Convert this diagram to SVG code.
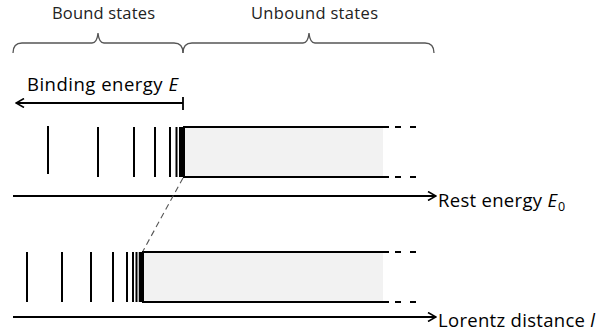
<svg xmlns="http://www.w3.org/2000/svg" width="597" height="333" viewBox="0 0 597 333">
<defs>
<style>
.lbl{font-family:"Open Sans","Liberation Sans",sans-serif;fill:#000}
.top{font-family:"Open Sans","Liberation Sans",sans-serif;fill:#222;font-size:16.5px}
.brace{fill:none;stroke:#555;stroke-width:1.3}
.ln{stroke:#000;stroke-width:2;fill:none}
.box{fill:#f2f2f2;stroke:none}
.dash{stroke:#000;stroke-width:2;stroke-dasharray:6 9}
.guide{stroke:#555;stroke-width:1.1;stroke-dasharray:6 4;fill:none}
</style>
<marker id="arr" viewBox="0 0 10 10" refX="9" refY="5" markerWidth="10" markerHeight="10" markerUnits="userSpaceOnUse" orient="auto-start-reverse">
<path d="M1,0.5 L9,5 L1,9.5" fill="none" stroke="#000" stroke-width="1.6"/>
</marker>
</defs>
<rect width="597" height="333" fill="#fff"/>

<g id="bound-label">
<text class="top" x="52" y="18.5" textLength="103" lengthAdjust="spacing">Bound states</text>
<path class="brace" d="M13,53 Q13,43 22,43 L92,43 Q97,43 98,33 Q99,43 104,43 L174,43 Q183,43 183,53"/>
</g>
<g id="unbound-label">
<text class="top" x="251" y="18.5" textLength="127" lengthAdjust="spacing">Unbound states</text>
<path class="brace" d="M183,53 Q183,43 192,43 L303,43 Q308,43 309,33 Q310,43 315,43 L425,43 Q434,43 434,53"/>
</g>

<g id="binding-energy">
<text class="lbl" x="27" y="91" font-size="18.5" textLength="151" lengthAdjust="spacing">Binding energy <tspan font-style="italic">E</tspan></text>
<line class="ln" x1="183" y1="103" x2="16" y2="103" marker-end="url(#arr)" style="stroke-width:1.8"/>
<line class="ln" x1="183" y1="97" x2="183" y2="110" style="stroke-width:1.8"/>
</g>

<g id="spectrum-energy">
<rect class="box" x="184" y="127" width="199" height="50"/>
<g class="ln">
<line x1="48" y1="126" x2="48" y2="174"/>
<line x1="98" y1="127" x2="98" y2="177"/>
<line x1="134" y1="127" x2="134" y2="177"/>
<line x1="155" y1="127" x2="155" y2="177"/>
<line x1="170" y1="127" x2="170" y2="177"/>
<line x1="176.5" y1="127" x2="176.5" y2="177"/>
<line x1="181.5" y1="127" x2="181.5" y2="177" style="stroke-width:5"/>
<path d="M389,127 L184,127 L184,177 L389,177"/>
</g>
<line class="dash" x1="395" y1="127" x2="416" y2="127"/>
<line class="dash" x1="395" y1="177" x2="416" y2="177"/>
</g>

<g id="spectrum-lorentz">
<rect class="box" x="143" y="252" width="240" height="50"/>
<g class="ln">
<line x1="27" y1="252" x2="27" y2="302"/>
<line x1="62" y1="252" x2="62" y2="302"/>
<line x1="91" y1="252" x2="91" y2="302"/>
<line x1="113" y1="252" x2="113" y2="302"/>
<line x1="127" y1="252" x2="127" y2="302"/>
<line x1="133" y1="252" x2="133" y2="302"/>
<line x1="136.5" y1="252" x2="136.5" y2="302"/>
<line x1="140.5" y1="252" x2="140.5" y2="302" style="stroke-width:3.5"/>
<path d="M389,252 L143,252 L143,302 L389,302"/>
</g>
<line class="dash" x1="395" y1="252" x2="416" y2="252"/>
<line class="dash" x1="395" y1="302" x2="416" y2="302"/>
</g>

<g id="axis-energy">
<text class="lbl" x="438" y="207" font-size="18.5" textLength="119" lengthAdjust="spacing">Rest energy <tspan font-style="italic">E</tspan></text>
<text class="lbl" x="558" y="211" font-size="12.5">0</text>
</g>
<g id="axis-lorentz">
<text class="lbl" x="438" y="327" font-size="18.5" textLength="157" lengthAdjust="spacing">Lorentz distance <tspan font-style="italic">l</tspan></text>
</g>

<g id="connectors">
<line class="ln" x1="13" y1="196" x2="436" y2="196" marker-end="url(#arr)" style="stroke-width:1.8"/>
<line class="ln" x1="13" y1="317" x2="436" y2="317" marker-end="url(#arr)" style="stroke-width:1.8"/>
<line class="guide" x1="183" y1="178" x2="143" y2="251"/>
</g>
</svg>
